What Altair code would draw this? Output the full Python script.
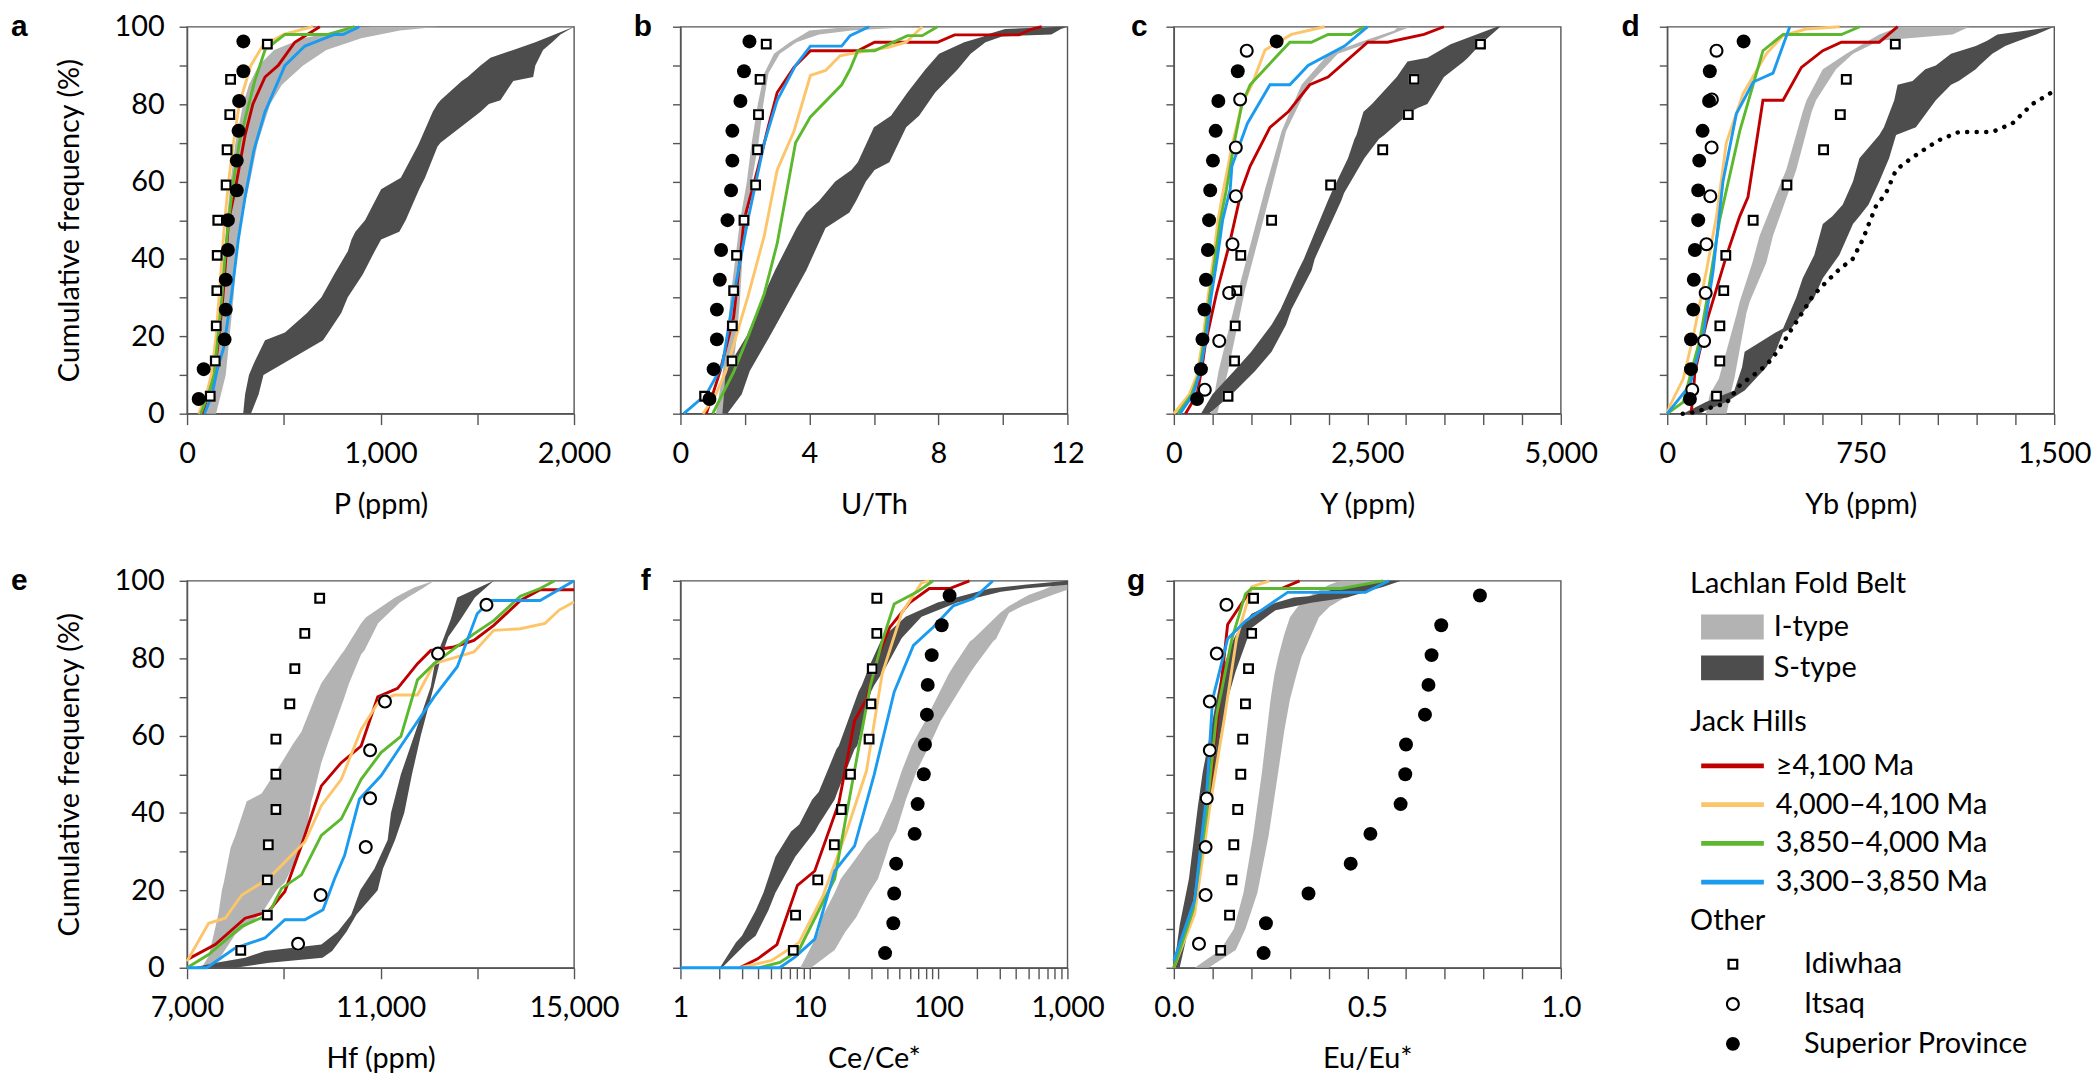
import altair as alt
import pandas as pd

# ---------------- categories / colours ----------------
LFB_TYPES = ["I-type", "S-type"]
LFB_COLORS = ["#b3b3b3", "#4d4d4d"]
JH_AGES = ["≥4,100 Ma", "4,000–4,100 Ma", "3,850–4,000 Ma", "3,300–3,850 Ma"]
JH_COLORS = ["#c00000", "#fdc56a", "#5cb82d", "#1a9bf0"]
OTHER_GROUPS = ["Idiwhaa", "Itsaq", "Superior Province"]
SQUARE_SOLID = "M-0.78,-0.78L0.78,-0.78L0.78,0.78L-0.78,0.78Z"
SQUARE_RING = "M-0.78,-0.78L0.78,-0.78L0.78,0.78L-0.78,0.78Z M-0.46,-0.46L-0.46,0.46L0.46,0.46L0.46,-0.46Z"
CIRCLE_RING = "M-1,0A1,1,0,1,0,1,0A1,1,0,1,0,-1,0Z M-0.7,0A0.7,0.7,0,1,1,0.7,0A0.7,0.7,0,1,1,-0.7,0Z"
OTHER_SHAPES = [SQUARE_RING, CIRCLE_RING, "circle"]
OTHER_UNDERLAY = {"Idiwhaa": SQUARE_SOLID, "Itsaq": "circle"}

Y_TICKS = [0, 10, 20, 30, 40, 50, 60, 70, 80, 90, 100]

# cumulative-frequency levels of the point series (%)
SUP_Y = [3.8, 11.5, 19.2, 26.9, 34.6, 42.3, 50.0, 57.7, 65.4, 73.1, 80.8, 88.5, 96.2]
IDI_Y = [4.5, 13.6, 22.7, 31.8, 40.9, 50.0, 59.1, 68.2, 77.3, 86.4, 95.5]
ITS_Y = [6.2, 18.8, 31.2, 43.8, 56.2, 68.8, 81.2, 93.8]

# ---------------- panel a : P (ppm) ----------------
a_itype = [(0, 100, 150), (10, 140, 200), (20, 160, 220), (30, 175, 240), (40, 190, 255), (50, 205, 280),
           (60, 225, 325), (70, 250, 365), (80, 290, 430), (85, 320, 490), (90, 370, 600), (94, 450, 720),
           (97, 600, 900), (99, 800, 1100), (100, 950, 1300)]
a_stype = [(0, 290, 330), (5, 300, 370), (10, 320, 395), (13, 345, 497), (19, 403, 703), (21, 506, 730),
           (26, 620, 797), (30, 694, 830), (36, 760, 908), (42, 831, 970), (45, 850, 1003), (47, 870, 1097),
           (50, 920, 1130), (58, 1003, 1200), (61, 1105, 1230), (69, 1190, 1294), (70, 1200, 1310),
           (78, 1270, 1517), (80, 1294, 1560), (81, 1310, 1620), (86, 1420, 1686), (87, 1450, 1789),
           (90, 1517, 1800), (92, 1568, 1820), (94, 1686, 1840), (96, 1800, 1887), (98, 1900, 1930),
           (100, 2000, 2000)]
a_red = [(0, 80), (5, 110), (10, 140), (20, 165), (30, 185), (40, 200), (50, 215), (58, 249), (72, 300),
         (80, 340), (87, 403), (90, 471), (96, 557), (100, 686)]
a_orange = [(0, 60), (5, 100), (10, 125), (20, 150), (30, 165), (40, 180), (50, 195), (60, 215), (70, 240),
            (80, 270), (90, 330), (95, 390), (98, 500), (100, 650)]
a_green = [(0, 70), (5, 110), (10, 140), (20, 160), (30, 180), (40, 195), (50, 215), (60, 240), (70, 270),
           (78, 309), (86, 350), (94, 403), (98, 506), (98, 729), (100, 866)]
a_blue = [(0, 90), (5, 130), (11, 154), (17, 189), (31, 231), (45, 265), (56, 300), (68, 345), (78, 403),
          (90, 506), (95, 609), (98, 763), (98, 806), (100, 891)]
a_idi = [120, 146, 151, 154, 156, 159, 202, 207, 221, 225, 415]
a_sup = [60, 86, 194, 200, 200, 211, 211, 257, 257, 266, 269, 291, 291]

# ---------------- panel b : U/Th ----------------
b_itype = [(0, 1.1, 1.4), (10, 1.3, 1.6), (20, 1.45, 1.75), (30, 1.55, 1.85), (40, 1.7, 1.92), (50, 1.85, 2.06),
           (60, 2.06, 2.21), (70, 2.21, 2.42), (80, 2.4, 2.57), (88, 2.6, 2.73), (93, 2.9, 3.08), (96, 3.39, 3.6),
           (98, 3.8, 4.3), (99, 4.0, 5.3), (100, 5.3, 7.3)]
b_stype = [(0, 1.3, 1.45), (5, 1.35, 1.9), (11, 1.4, 2.15), (20, 2.05, 2.77), (31, 2.6, 3.5), (37, 2.93, 3.9),
           (48, 3.6, 4.5), (52, 3.9, 5.24), (55, 4.3, 5.45), (60, 4.8, 5.75), (63, 5.3, 6.02), (65, 5.5, 6.48),
           (74, 6.0, 7.0), (77, 6.53, 7.4), (83, 7.04, 7.9), (89, 7.6, 8.6), (93, 8.02, 9.0), (96, 8.8, 9.46),
           (97.5, 9.4, 9.97), (98, 9.5, 11.5), (99.4, 10.07, 11.8), (100, 11.83, 12.0)]
b_red = [(0, 0.8), (5, 1.0), (11, 1.23), (25, 1.65), (40, 1.85), (50, 1.97), (63, 2.39), (75, 2.75), (83, 3.0),
         (89.5, 3.52), (93.8, 4.03), (93.8, 5.5), (96, 6.02), (96, 7.97), (97.9, 8.5), (97.9, 10.5), (99.4, 10.9),
         (100, 11.2)]
b_orange = [(0, 0.7), (5, 1.1), (10.8, 1.4), (30.5, 2.1), (46, 2.6), (63, 3.0), (73, 3.52), (87.4, 4.03),
            (88.7, 4.5), (92.5, 4.95), (93, 5.26), (94.7, 6.45), (96, 7.0), (100, 7.5)]
b_green = [(0, 1.0), (5, 1.3), (10.8, 1.65), (20, 2.1), (31, 2.6), (44, 3.0), (70, 3.57), (76.7, 4.03), (85, 5.0),
           (89, 5.26), (93.8, 5.5), (93.8, 6.02), (97.7, 7.04), (97.7, 7.5), (100, 7.97)]
b_blue = [(0, 0.1), (5, 0.8), (12.5, 1.3), (30.5, 1.65), (50, 2.09), (70, 2.6), (81, 3.0), (90, 3.57), (95, 4.03),
          (95, 5.0), (97.7, 5.26), (100, 5.85)]
b_idi = [0.75, 1.60, 1.61, 1.65, 1.74, 1.97, 2.33, 2.39, 2.42, 2.47, 2.66]
b_sup = [0.9, 1.03, 1.13, 1.13, 1.22, 1.26, 1.46, 1.57, 1.61, 1.61, 1.86, 1.97, 2.14]

# ---------------- panel c : Y (ppm) ----------------
c_itype = [(0, 480, 560), (11, 578, 700), (32, 835, 920), (58, 1178, 1260), (73, 1392, 1450), (85, 1649, 1740),
           (93, 2000, 2120), (96, 2400, 2548), (99, 2850, 2933), (100, 2900, 3060)]
c_stype = [(0, 350, 450), (5, 500, 750), (11, 778, 1050), (16, 1000, 1263), (23, 1263, 1450), (27, 1380, 1520),
           (37, 1606, 1780), (40, 1680, 1820), (55, 1990, 2163), (57, 2034, 2200), (66, 2250, 2462),
           (71, 2334, 2650), (72, 2360, 2719), (78, 2450, 3062), (79, 2505, 3150), (80, 2560, 3276),
           (87, 2880, 3490), (91, 3019, 3747), (92, 3276, 3800), (95.5, 3576, 3962), (100, 4176, 4219)]
c_red = [(0, 150), (5, 300), (12, 364), (18, 407), (31, 550), (44, 720), (58, 878), (64, 986), (74, 1242),
         (78, 1478), (85, 1756), (87, 1992), (96, 2505), (96, 2762), (98, 3233), (100, 3490)]
c_orange = [(0, 0), (5, 200), (10, 300), (20, 380), (30, 440), (40, 510), (50, 570), (58, 642), (70, 760),
            (80, 880), (85, 1009), (94, 1178), (98, 1520), (100, 1949)]
c_green = [(0, 50), (5, 230), (10, 320), (20, 400), (30, 460), (40, 530), (50, 600), (58, 680), (70, 780),
           (80, 880), (85, 986), (96, 1499), (96, 1778), (98, 1992), (98, 2291), (100, 2462)]
c_blue = [(0, 80), (5, 250), (10, 330), (20, 420), (30, 480), (40, 560), (50, 630), (58, 728), (64, 750),
          (75, 950), (85, 1242), (85, 1499), (90, 1735), (95, 2206), (100, 2505)]
c_idi = [700, 784, 793, 814, 865, 1263, 2026, 2699, 3029, 3106, 3962]
c_its = [400, 587, 715, 758, 801, 801, 857, 942]
c_sup = [300, 350, 370, 395, 415, 440, 455, 470, 505, 540, 575, 826, 1328]

# ---------------- panel d : Yb (ppm) ----------------
d_itype = [(0, 150, 230), (5, 165, 245), (9, 200, 260), (26, 270, 307), (29, 281, 320), (39, 330, 384),
           (46, 358, 410), (58, 430, 474), (63, 461, 500), (78, 525, 560), (81, 540, 577), (89, 603, 654),
           (93, 694, 720), (96.4, 780, 822), (98, 822, 1106), (100, 900, 1171)]
d_stype = [(0, 60, 120), (3, 150, 229), (6, 260, 300), (12, 290, 384), (16, 300, 420), (21, 420, 449),
           (22, 449, 480), (30, 500, 570), (35, 525, 603), (41, 570, 667), (49, 603, 720), (51, 640, 745),
           (54, 680, 780), (60, 720, 822), (66, 745, 860), (72, 822, 887), (74, 840, 964), (81, 880, 1041),
           (85, 893, 1100), (86, 951, 1130), (89, 1000, 1196), (90, 1041, 1210), (93, 1100, 1260),
           (95, 1196, 1310), (96.4, 1240, 1363), (98, 1280, 1430), (100, 1500, 1500)]
d_red = [(0, 92), (5, 101), (10.8, 107), (23.6, 152), (40.7, 229), (51, 281), (56, 313), (81, 371), (81, 449),
         (89.5, 520), (93.8, 603), (96, 675), (96, 822), (100, 893)]
d_orange = [(0, 0), (2, 10), (9, 62), (20, 101), (37, 152), (51, 191), (70, 229), (82.7, 294), (93, 384),
            (97.7, 449), (99.4, 539), (100, 668)]
d_green = [(0, 0), (3, 62), (19, 126), (28.8, 152), (50, 203), (73, 281), (93.8, 371), (98, 449), (98, 675),
           (100, 746)]
d_blue = [(0, 0), (7.4, 88), (20, 139), (37, 178), (60, 216), (77.5, 268), (85.7, 333), (88, 410), (100, 475)]
d_dotted = [(0, 60), (0.3, 100), (2.7, 229), (7.3, 281), (9.9, 333), (12.5, 384), (16.8, 436), (21, 474),
            (25, 513), (30.5, 565), (34, 616), (37.3, 667), (40, 719), (45, 758), (49.3, 783), (53.6, 809),
            (57, 848), (63, 887), (65.6, 938), (68, 990), (70.7, 1054), (72.8, 1131), (72.8, 1260), (75, 1338),
            (80, 1415), (83.4, 1500)]
d_idi = [191, 204, 204, 219, 227, 333, 464, 606, 671, 694, 884]
d_its = [97, 143, 149, 152, 167, 172, 173, 191]
d_sup = [88, 92, 92, 101, 103, 107, 120, 120, 124, 137, 162, 165, 296]

# ---------------- panel e : Hf (ppm) ----------------
e_itype = [(0, 7300, 7450), (3, 7446, 7700), (8.5, 7550, 7994), (14, 7650, 8542), (20, 7720, 8850),
           (22, 7760, 9022), (31, 7900, 9365), (34, 7994, 9450), (43, 8234, 9571), (45, 8542, 9620),
           (53, 8954, 9776), (58, 9200, 9913), (61, 9365, 10000), (70, 9650, 10256), (73.5, 9776, 10350),
           (81, 10188, 10600), (82, 10250, 10667), (89, 10599, 10950), (90.6, 10700, 11079),
           (94.4, 11147, 11400), (95.7, 11300, 11559), (98.3, 11696, 11900), (100, 12107, 12107)]
e_stype = [(0, 7100, 8000), (1.3, 7600, 8700), (2.6, 8200, 9800), (4.3, 8611, 10000), (6, 9776, 10100),
           (9.4, 10119, 10300), (13.7, 10393, 10500), (20, 10580, 10941), (25.6, 10873, 11050),
           (33, 11147, 11300), (40, 11216, 11490), (50, 11421, 11650), (60, 11696, 11833), (72.6, 12038, 12100),
           (80, 12141, 12244), (85.5, 12313, 12400), (90, 12450, 12655), (95.7, 12587, 12950),
           (100, 13340, 13340)]
e_red = [(2.1, 7000), (6, 7583), (12.8, 8200), (14.5, 8680), (19.7, 9022), (31.6, 9365), (47, 9776),
         (53, 10188), (57.3, 10599), (70, 10942), (72.2, 11353), (78.6, 11764), (82, 12038), (82.9, 12518),
         (84.6, 12930), (88.5, 13340), (95, 13900), (97.7, 14300), (97.7, 15000)]
e_orange = [(1.7, 7000), (11.5, 7446), (12.8, 7788), (18.8, 8131), (23, 8680), (28.2, 9091), (32.5, 9434),
            (41.9, 9776), (48.7, 10188), (61.5, 10599), (68.4, 10942), (70.5, 11284), (70.5, 11764),
            (78.6, 12107), (81.6, 12930), (87.2, 13340), (87.6, 13889), (89, 14400), (92.5, 14700),
            (94.5, 15000)]
e_green = [(0, 7000), (3.4, 7446), (10.7, 8131), (13.7, 8680), (20.5, 8954), (24, 9365), (34.2, 9776),
           (38.5, 10188), (48.7, 10599), (55.6, 11010), (59.8, 11421), (74.4, 11764), (78.6, 12107),
           (86.3, 12930), (89.7, 13340), (96, 13889), (98, 14300), (100, 14600)]
e_blue = [(0, 7000), (0, 7411), (5.1, 7994), (7.7, 8611), (12.4, 9022), (12.4, 9434), (15, 9811), (23, 10050),
          (29, 10256), (43.6, 10564), (49.6, 11010), (57.3, 11421), (70, 12107), (77.8, 12587), (91.5, 12998),
          (94.9, 13272), (94.9, 14300), (100, 15000)]
e_idi = [8110, 8659, 8659, 8680, 8837, 8837, 8837, 9125, 9228, 9434, 9742]
e_its = [9296, 9763, 10695, 10784, 10784, 11092, 12189, 13190]

# ---------------- panel f : Ce/Ce* ----------------
f_itype = [(0, 8.5, 10.3), (4.6, 10, 15.7), (9.3, 11.8, 19), (13, 12.5, 23), (19.4, 15.7, 29), (23, 17.5, 34),
           (27.8, 22.4, 38), (32.4, 28, 42), (35.2, 34.1, 47), (43.5, 44, 56), (50.9, 52, 68), (57.4, 62, 85),
           (64, 79.7, 105), (67.6, 90, 122), (75.9, 120, 174), (77.8, 130, 190), (84.3, 175, 265),
           (85, 187, 280), (91.7, 300, 352), (93.5, 352, 450), (96.3, 500, 765), (97.7, 650, 1000),
           (99, 800, 1000)]
f_stype = [(0, 2.02, 2.1), (6.5, 2.69, 3.3), (8.3, 3.0, 3.83), (14.8, 3.83, 4.8), (19.4, 4.4, 5.45),
           (28.7, 5.45, 7.76), (35.2, 7.2, 11), (37, 8.34, 11.8), (43.5, 10.5, 15.7), (45.4, 11.8, 16.5),
           (56.5, 16.2, 22.4), (57.4, 16.9, 23.5), (71.3, 24, 30), (73, 25.5, 31.8), (77.8, 29, 39.3),
           (85.2, 36.6, 52), (90.7, 55.6, 74), (94.4, 98.5, 140), (97.2, 201, 305), (98, 250, 466),
           (99, 466, 1000), (100, 1000, 1000)]
f_red = [(0, 2.88), (2.3, 3.97), (6, 5.6), (21.3, 8.07), (25, 11), (42.6, 16.9), (63.9, 22.4), (69.4, 27.7),
         (80.6, 34.1), (88, 42), (94.4, 60), (98, 85), (98, 122), (100, 174)]
f_orange = [(0, 2.88), (1.9, 5.1), (6.5, 8.3), (18.5, 12.7), (35.2, 19.4), (50.9, 27.7), (75.9, 36.6),
            (91.7, 52), (99.5, 74), (100, 85)]
f_green = [(0, 4.1), (1.4, 5.9), (4.6, 8.3), (23, 15.7), (56.5, 24), (73, 29.7), (84.3, 36.6), (94, 45.4),
           (97.2, 69), (100, 91)]
f_blue = [(0, 1), (0, 5.87), (2.8, 7.76), (7.4, 11), (25, 15.7), (31.5, 22.4), (50, 31.8), (71.3, 45.4),
          (83.3, 64), (88, 91), (93.5, 130), (95.4, 187), (100, 265)]
f_idi = [7.5, 7.8, 11.6, 15.6, 17.7, 20.8, 29, 30, 30.7, 33.3, 33.3]
f_sup = [38.6, 44.7, 45.4, 47, 65.4, 69, 77, 78.6, 81.4, 82.6, 88.7, 106, 122]

# ---------------- panel g : Eu/Eu* ----------------
g_itype = [(0, 0.054, 0.09), (4.6, 0.12, 0.16), (10, 0.155, 0.185), (19.4, 0.18, 0.216), (34.2, 0.205, 0.245),
           (50.8, 0.228, 0.27), (61, 0.24, 0.285), (69.3, 0.25, 0.3), (75.8, 0.26, 0.317), (80.4, 0.27, 0.33),
           (86, 0.285, 0.355), (90.6, 0.3, 0.375), (93.3, 0.32, 0.402), (96.1, 0.35, 0.448), (98.9, 0.4, 0.51),
           (100, 0.43, 0.56)]
g_stype = [(0, 0.0, 0.015), (11, 0.015, 0.04), (23, 0.039, 0.065), (41.6, 0.062, 0.095), (50.8, 0.075, 0.108),
           (60, 0.093, 0.12), (69.3, 0.11, 0.139), (76.7, 0.124, 0.16), (85, 0.155, 0.19), (87.8, 0.17, 0.201),
           (91.5, 0.201, 0.25), (92.4, 0.22, 0.263), (94.3, 0.263, 0.355), (95.7, 0.31, 0.448),
           (96.1, 0.355, 0.46), (98, 0.42, 0.526), (98.4, 0.448, 0.54), (100, 0.556, 0.587)]
g_red = [(0, 0), (13.9, 0.046), (32.3, 0.077), (60, 0.108), (88.7, 0.139), (98, 0.201), (98, 0.278), (100, 0.325)]
g_orange = [(0, 0), (13.9, 0.054), (41.6, 0.093), (64.7, 0.131), (85, 0.162), (98.4, 0.201), (100, 0.247)]
g_green = [(0, 0), (15, 0.05), (40, 0.085), (65, 0.11), (85, 0.15), (96.6, 0.185), (98, 0.201), (98, 0.433),
           (100, 0.541)]
g_blue = [(1.8, 0), (17.6, 0.054), (45, 0.085), (69.3, 0.1), (85, 0.139), (89.6, 0.185), (97, 0.294),
          (97, 0.495), (100, 0.556)]
g_idi = [0.121, 0.144, 0.15, 0.155, 0.165, 0.173, 0.178, 0.185, 0.193, 0.201, 0.206]
g_its = [0.065, 0.082, 0.082, 0.085, 0.093, 0.093, 0.111, 0.136]
g_sup = [0.232, 0.238, 0.348, 0.457, 0.508, 0.586, 0.598, 0.6, 0.649, 0.658, 0.666, 0.691, 0.791]

# ---------------- axes ----------------
a_ticks = [0, 500, 1000, 1500, 2000]
b_ticks = [0, 2, 4, 6, 8, 10, 12]
c_ticks = [0, 500, 1000, 1500, 2000, 2500, 3000, 3500, 4000, 4500, 5000]
d_ticks = [0, 150, 300, 450, 600, 750, 900, 1050, 1200, 1350, 1500]
e_ticks = [7000, 9000, 11000, 13000, 15000]
f_ticks = [1, 2, 3, 4, 5, 6, 7, 8, 9, 10, 20, 30, 40, 50, 60, 70, 80, 90,
           100, 200, 300, 400, 500, 600, 700, 800, 900, 1000]
g_ticks = [0.0, 0.1, 0.2, 0.3, 0.4, 0.5, 0.6, 0.7, 0.8, 0.9, 1.0]

PANELS = [
    dict(letter="a", lx=-177, title="P (ppm)", dom=[0, 2000], ticks=a_ticks, log=False, ylab=True,
         lab="datum.value % 1000 === 0 ? format(datum.value, ',') : ''",
         itype=a_itype, stype=a_stype, lines=[a_red, a_orange, a_green, a_blue],
         idi=a_idi, its=None, sup=a_sup, dotted=None),
    dict(letter="b", lx=-47, title="U/Th", dom=[0, 12], ticks=b_ticks, log=False, ylab=False,
         lab="datum.value % 4 === 0 ? format(datum.value, 'd') : ''",
         itype=b_itype, stype=b_stype, lines=[b_red, b_orange, b_green, b_blue],
         idi=b_idi, its=None, sup=b_sup, dotted=None),
    dict(letter="c", lx=-43, title="Y (ppm)", dom=[0, 5000], ticks=c_ticks, log=False, ylab=False,
         lab="datum.value % 2500 === 0 ? format(datum.value, ',') : ''",
         itype=c_itype, stype=c_stype, lines=[c_red, c_orange, c_green, c_blue],
         idi=c_idi, its=c_its, sup=c_sup, dotted=None),
    dict(letter="d", lx=-46, title="Yb (ppm)", dom=[0, 1500], ticks=d_ticks, log=False, ylab=False,
         lab="datum.value % 750 === 0 ? format(datum.value, ',') : ''",
         itype=d_itype, stype=d_stype, lines=[d_red, d_orange, d_green, d_blue],
         idi=d_idi, its=d_its, sup=d_sup, dotted=d_dotted),
    dict(letter="e", lx=-177, title="Hf (ppm)", dom=[7000, 15000], ticks=e_ticks, log=False, ylab=True,
         lab="(datum.value - 7000) % 4000 === 0 ? format(datum.value, ',') : ''",
         itype=e_itype, stype=e_stype, lines=[e_red, e_orange, e_green, e_blue],
         idi=e_idi, its=e_its, sup=None, dotted=None),
    dict(letter="f", lx=-40, title="Ce/Ce*", dom=[1, 1000], ticks=f_ticks, log=True, ylab=False,
         lab="indexof([1, 10, 100, 1000], datum.value) >= 0 ? format(datum.value, ',') : ''",
         itype=f_itype, stype=f_stype, lines=[f_red, f_orange, f_green, f_blue],
         idi=f_idi, its=None, sup=f_sup, dotted=None),
    dict(letter="g", lx=-47, title="Eu/Eu*", dom=[0, 1], ticks=g_ticks, log=False, ylab=False,
         lab="(datum.value == 0 || datum.value == 0.5 || datum.value == 1) ? format(datum.value, '.1f') : ''",
         itype=g_itype, stype=g_stype, lines=[g_red, g_orange, g_green, g_blue],
         idi=g_idi, its=g_its, sup=g_sup, dotted=None),
]

# ---------------- legends (shared across panels) ----------------
FONT = "Lato"
W = 389
H = 389
BAND_SYMBOL = "M-0.12,-1L4.92,-1L4.92,1L-0.12,1Z"
LINE_SYMBOL = "M-0.31,0L4.73,0"

fill_legend = alt.Legend(title="Lachlan Fold Belt", orient="none", legendX=1511, legendY=546,
                         symbolType=BAND_SYMBOL, symbolSize=625, symbolStrokeWidth=0, symbolOffset=-2,
                         labelOffset=57, rowPadding=11, symbolOpacity=1)
stroke_legend = alt.Legend(title="Jack Hills", orient="none", legendX=1511, legendY=685,
                           symbolType=LINE_SYMBOL, symbolSize=625, symbolStrokeWidth=4.7, labelOffset=56,
                           rowPadding=9)
other_legend = alt.Legend(title="Other", orient="none", legendX=1511, legendY=885,
                          symbolSize=196, symbolStrokeWidth=0, symbolOffset=28.5, labelOffset=57,
                          rowPadding=10, symbolOpacity=1, symbolFillColor="black")

fill_scale = alt.Scale(domain=LFB_TYPES, range=LFB_COLORS)
stroke_scale = alt.Scale(domain=JH_AGES, range=JH_COLORS)
shape_scale = alt.Scale(domain=OTHER_GROUPS, range=OTHER_SHAPES)


def make_panel(p):
    xscale = alt.Scale(domain=p["dom"], type="log" if p["log"] else "linear", nice=False, zero=False)
    yscale = alt.Scale(domain=[0, 100], nice=False)
    xaxis = alt.Axis(values=p["ticks"], labelExpr=p["lab"], title=p["title"], labelOverlap=False)
    if p["ylab"]:
        yaxis = alt.Axis(values=Y_TICKS, title="Cumulative frequency (%)", labelOverlap=False,
                         labelExpr="datum.value % 20 === 0 ? datum.label : ''")
    else:
        yaxis = alt.Axis(values=Y_TICKS, labels=False, title=None)

    X = alt.X("x:Q", scale=xscale, axis=xaxis)
    Y = alt.Y("y:Q", scale=yscale, axis=yaxis)

    band_rows = []
    for t, tbl in zip(LFB_TYPES, [p["itype"], p["stype"]]):
        for (yy, lo, hi) in tbl:
            band_rows.append({"type": t, "y": yy, "x": lo, "x_hi": hi})
    bands = alt.Chart(pd.DataFrame(band_rows)).mark_area(orient="horizontal", opacity=1).encode(
        y=Y, x=X, x2=alt.X2("x_hi:Q"),
        fill=alt.Fill("type:N", scale=fill_scale, legend=fill_legend),
    )

    line_rows = []
    for age, series in zip(JH_AGES, p["lines"]):
        for i, (yy, xx) in enumerate(series):
            line_rows.append({"age": age, "y": yy, "x": xx, "seq": i})
    lines = alt.Chart(pd.DataFrame(line_rows)).mark_line(strokeWidth=2.9).encode(
        x=X, y=Y, order=alt.Order("seq:Q"),
        stroke=alt.Stroke("age:N", scale=stroke_scale, legend=stroke_legend),
    )

    layers = [bands, lines]

    if p["dotted"] is not None:
        dot_df = pd.DataFrame([{"y": yy, "x": xx, "seq": i} for i, (yy, xx) in enumerate(p["dotted"])])
        layers.append(alt.Chart(dot_df).mark_line(stroke="black", strokeWidth=4.5, strokeDash=[0.1, 9.5],
                                                  strokeCap="round").encode(x=X, y=Y, order=alt.Order("seq:Q")))

    pt_rows = []
    for grp, xs, ys in [("Idiwhaa", p["idi"], IDI_Y), ("Itsaq", p["its"], ITS_Y),
                        ("Superior Province", p["sup"], SUP_Y)]:
        if xs is None:
            continue
        for xx, yy in zip(xs, ys):
            pt_rows.append({"group": grp, "x": xx, "y": yy})
    pts_df = pd.DataFrame(pt_rows)

    # white interiors of the open symbols
    for grp, under_shape in OTHER_UNDERLAY.items():
        sub = pts_df[pts_df["group"] == grp]
        if len(sub):
            layers.append(alt.Chart(sub).mark_point(filled=True, color="white", opacity=1, size=196,
                                                    shape=under_shape).encode(x=X, y=Y))

    points = alt.Chart(pts_df).mark_point(filled=True, color="black", size=196, opacity=1).encode(
        x=X, y=Y,
        shape=alt.Shape("group:N", scale=shape_scale, legend=other_legend),
    )
    layers.append(points)

    letter = alt.Chart(pd.DataFrame({"t": [p["letter"]]})).mark_text(
        align="left", baseline="middle", font="Liberation Sans", fontWeight="bold", fontSize=30, color="black"
    ).encode(x=alt.value(p["lx"]), y=alt.value(0), text="t:N")
    layers.append(letter)

    return alt.layer(*layers).properties(width=W, height=H)


panels = [make_panel(p) for p in PANELS]

chart = alt.concat(*panels, columns=4, spacing={"row": 168, "column": 107}, bounds="flush").properties(
    padding={"left": 2, "top": 0, "right": 0, "bottom": 0}
).configure(font=FONT).configure_view(
    stroke="#555555", strokeWidth=1.4
).configure_axis(
    labelFont=FONT, titleFont=FONT, labelFontSize=29, titleFontSize=29, titleFontWeight="normal",
    labelFontWeight="normal", labelColor="black", titleColor="black", domainColor="#555555",
    tickColor="#555555", domainWidth=1.4, tickWidth=1.4, grid=False
).configure_axisX(
    tickSize=11, labelPadding=15, titlePadding=22, labelFlush=False
).configure_axisY(
    tickSize=8, labelPadding=15, titlePadding=30
).configure_legend(
    labelFont=FONT, titleFont=FONT, labelFontSize=29, titleFontSize=29, titleFontWeight="normal",
    labelFontWeight="normal", labelColor="black", titleColor="black", padding=0, titlePadding=14,
    labelLimit=600, titleLimit=600
)

chart.save("out.html", embed_options={"renderer": "svg", "actions": False})
